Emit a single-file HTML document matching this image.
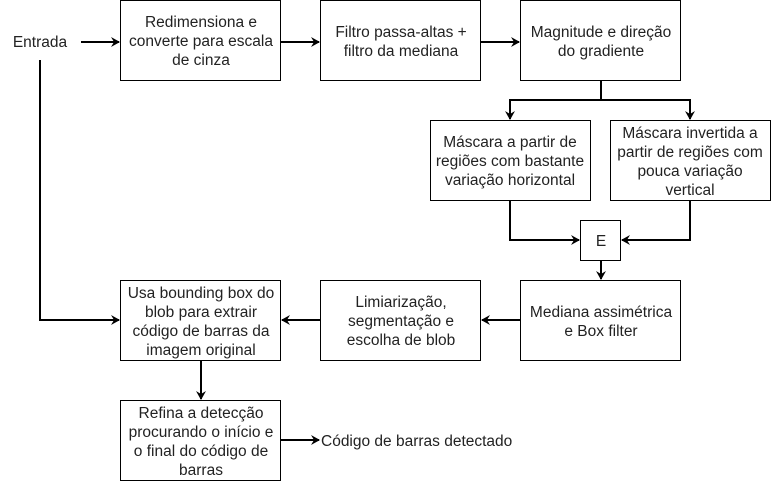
<!DOCTYPE html>
<html><head><meta charset="utf-8"><style>
body{margin:0;background:#fff;width:771px;height:481px;overflow:hidden}
</style></head><body>
<svg width="771" height="481" viewBox="0 0 771 481" xmlns="http://www.w3.org/2000/svg" font-family="Liberation Sans, Arial, sans-serif" font-size="15.5" fill="#000">
<defs><marker id="a" markerWidth="10" markerHeight="10" refX="8" refY="5" orient="auto" markerUnits="userSpaceOnUse"><path d="M0,0 L9,5 L0,10 L3,5 Z" fill="#000"/></marker></defs>
<g fill="none" stroke="#000" stroke-width="1">
<rect x="120.5" y="0.5" width="160" height="80"/>
<rect x="320.5" y="0.5" width="160" height="80"/>
<rect x="520.5" y="0.5" width="160" height="80"/>
<rect x="430.5" y="120.5" width="160" height="80"/>
<rect x="610.5" y="120.5" width="160" height="80"/>
<rect x="580.5" y="220.5" width="40" height="40"/>
<rect x="520.5" y="280.5" width="160" height="80"/>
<rect x="320.5" y="280.5" width="160" height="80"/>
<rect x="120.5" y="280.5" width="160" height="80"/>
<rect x="120.5" y="400.5" width="160" height="80"/>
</g>
<g fill="none" stroke="#000" stroke-width="2" marker-end="url(#a)">
<path d="M81,42 H119"/>
<path d="M281,42 H319"/>
<path d="M481,42 H519"/>
<path d="M601,81 V100 H510 V119"/>
<path d="M601,100 H690 V119"/>
<path d="M510,201 V240 H579"/>
<path d="M690,201 V240 H622"/>
<path d="M601,261 V279"/>
<path d="M520,320 H482"/>
<path d="M320,320 H282"/>
<path d="M40,60 V320 H119"/>
<path d="M201,361 V399"/>
<path d="M281,440 H319"/>
</g>
<g text-anchor="middle" fill="#222">
<text x="40" y="47">Entrada</text>
<text x="201" y="27">Redimensiona e</text><text x="201" y="46">converte para escala</text><text x="201" y="65">de cinza</text>
<text x="401" y="37">Filtro passa-altas +</text><text x="401" y="56">filtro da mediana</text>
<text x="601" y="37">Magnitude e direção</text><text x="601" y="56">do gradiente</text>
<text x="510" y="147">Máscara a partir de</text><text x="510" y="166">regiões com bastante</text><text x="510" y="185">variação horizontal</text>
<text x="690" y="138">Máscara invertida a</text><text x="690" y="157">partir de regiões com</text><text x="690" y="176">pouca variação</text><text x="690" y="195">vertical</text>
<text x="601" y="246">E</text>
<text x="601" y="317">Mediana assimétrica</text><text x="601" y="336">e Box filter</text>
<text x="401" y="307">Limiarização,</text><text x="401" y="326">segmentação e</text><text x="401" y="345">escolha de blob</text>
<text x="201" y="298">Usa bounding box do</text><text x="201" y="317">blob para extrair</text><text x="201" y="336">código de barras da</text><text x="201" y="355">imagem original</text>
<text x="201" y="418">Refina a detecção</text><text x="201" y="437">procurando o início e</text><text x="201" y="456">o final do código de</text><text x="201" y="475">barras</text>
</g>
<text x="321" y="446" fill="#222">Código de barras detectado</text>
</svg>
</body></html>
